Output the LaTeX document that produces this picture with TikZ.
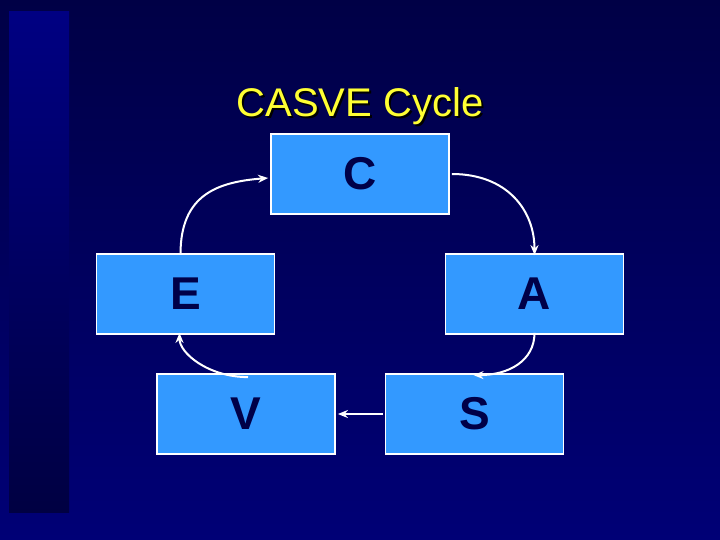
\documentclass[tikz,border=0pt]{standalone}
\usepackage{fontspec}
\setmainfont{Liberation Sans}
\usetikzlibrary{arrows.meta}
\definecolor{bgtop}{RGB}{0,0,70}
\definecolor{bgbot}{RGB}{0,0,118}
\definecolor{striptop}{RGB}{0,0,130}
\definecolor{stripbot}{RGB}{0,0,66}
\definecolor{boxfill}{RGB}{51,153,255}
\definecolor{boxtext}{RGB}{0,0,72}
\definecolor{titlecol}{RGB}{255,255,51}
\begin{document}
\begin{tikzpicture}[x=1pt,y=-1pt,
  stepbox/.style={draw=white,line width=1.8pt,fill=boxfill,minimum width=178pt,minimum height=80pt,inner sep=0pt,
    font=\fontsize{46}{46}\selectfont\bfseries,text=boxtext},
  link/.style={draw=white,line width=2pt,-{Stealth[length=10pt,width=8pt]}}]
\shade[top color=bgtop,bottom color=bgbot] (0,0) rectangle (720,540);
\useasboundingbox (0,0) rectangle (720,540);
\shade[top color=striptop,bottom color=stripbot] (9,12) rectangle (69,512);
\node[text=black,font=\fontsize{40}{40}\selectfont,anchor=base] (tsh) at (362,119) {CASVE Cycle};
\node[text=titlecol,font=\fontsize{40}{40}\selectfont,anchor=base] (title) at (360,117) {CASVE Cycle};
\node[stepbox] (C) at (360,174) {C};
\node[stepbox] (E) at (185.5,294) {E};
\node[stepbox] (A) at (534.5,294) {A};
\node[stepbox] (V) at (246,414) {V};
\node[stepbox] (S) at (474.5,414) {S};
\draw[link] ([xshift=-5pt,yshift=-1pt]E.north) .. controls +(0,-60) and +(-50,4) .. ([xshift=-2pt,yshift=-4pt]C.west);
\draw[link] ([xshift=2pt,yshift=0pt]C.east) .. controls +(55,0) and +(0,-45) .. ([yshift=-2pt]A.north);
\draw[link] ([yshift=2pt]A.south) .. controls +(0,28) and +(35,0) .. ([xshift=-1pt,yshift=-2pt]S.north);
\draw[link] ([xshift=-2pt]S.west) -- ([xshift=2pt]V.east);
\draw[link] ([xshift=2pt,yshift=-4pt]V.north) .. controls +(-40,0) and +(0,20) .. ([xshift=-6pt,yshift=2pt]E.south);
\end{tikzpicture}
\end{document}
